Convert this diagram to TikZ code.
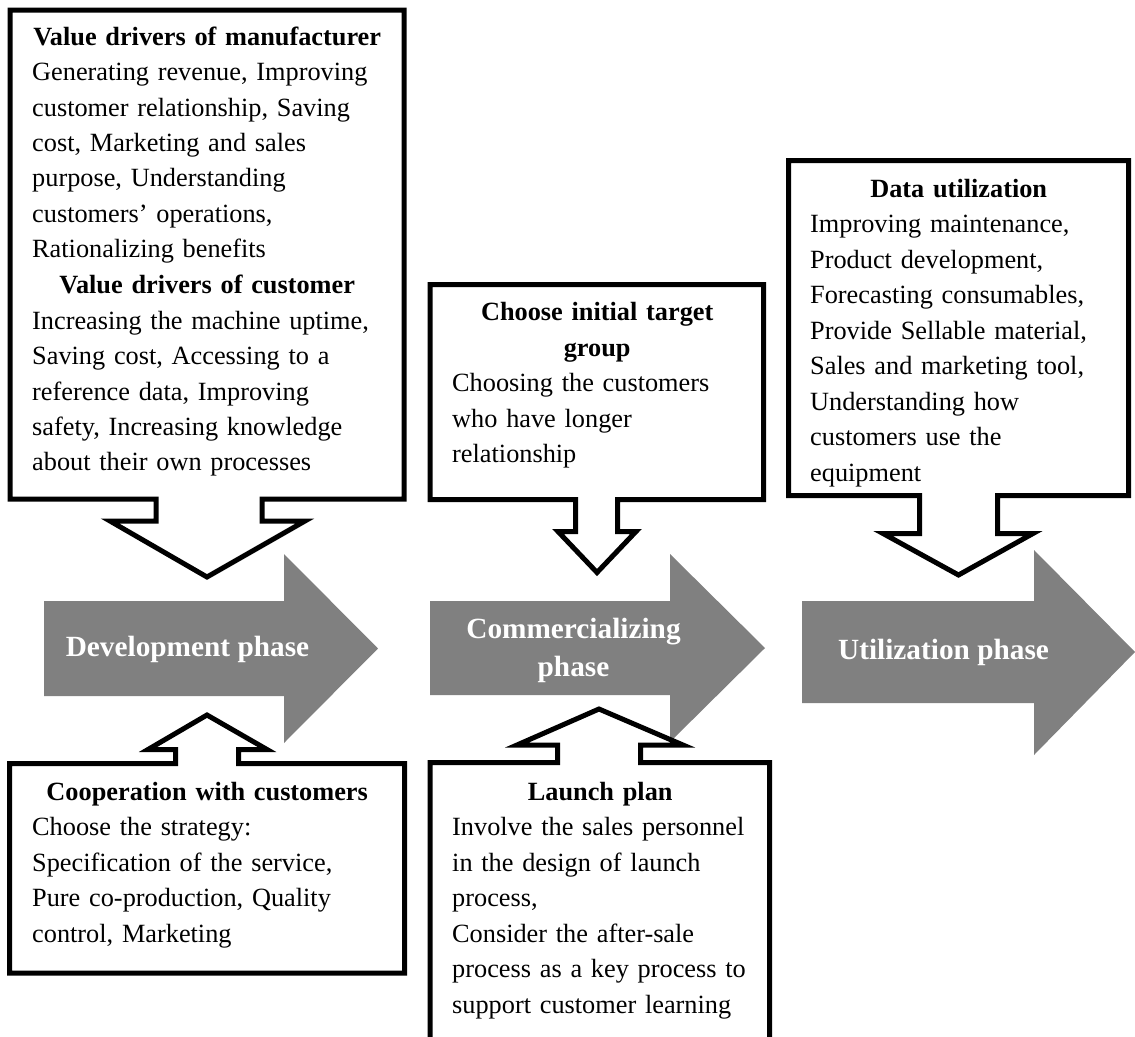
\documentclass[tikz,border=0pt]{standalone}
\usepackage{fontspec}
\setmainfont{Liberation Serif}
\definecolor{arrowgray}{RGB}{128,128,128}
% bold heading centred over a given width
\newcommand\boxhead[2]{\makebox[#1][c]{\bfseries #2}}
\tikzset{
  callout/.style={draw=black, line width=5pt, fill=white, line join=miter},
  phasearrow/.style={fill=arrowgray, draw=none},
  boxtext/.style={anchor=base west, inner sep=0pt, align=left, text width=420pt,
    font=\fontsize{26.3}{35.5}\selectfont},
  phasetext/.style={anchor=base, inner sep=0pt, align=center, text=white,
    font=\fontsize{29.3}{38}\selectfont\bfseries},
}
\begin{document}
\begin{tikzpicture}[x=1pt, y=-1pt]
\useasboundingbox (0,0) rectangle (1135,1036);
\clip (0,0) rectangle (1135,1036);

% phase arrows
\fill[phasearrow] (44,601) -- (284,601) -- (284,554) -- (378,648.5) -- (284,743) -- (284,696) -- (44,696) -- cycle;
\fill[phasearrow] (430,601) -- (670,601) -- (670,554) -- (765,648) -- (670,742) -- (670,695) -- (430,695) -- cycle;
\fill[phasearrow] (802,601) -- (1034,601) -- (1034,550) -- (1135,652) -- (1034,755) -- (1034,703) -- (802,703) -- cycle;

% callouts pointing down onto the phases
\draw[callout] (10,10) -- (404,10) -- (404,499) -- (262,499) -- (262,521) -- (305,521)
  -- (207,577) -- (110,521) -- (156,521) -- (156,499) -- (10,499) -- cycle;
\draw[callout] (430,284.5) -- (763.5,284.5) -- (763.5,499.5) -- (617.5,499.5) -- (617.5,531.5) -- (636,531.5)
  -- (597,572.5) -- (558,531.5) -- (575.5,531.5) -- (575.5,499.5) -- (430,499.5) -- cycle;
\draw[callout] (788.5,160.5) -- (1128.5,160.5) -- (1128.5,495.5) -- (997.5,495.5) -- (997.5,533.5) -- (1033,533.5)
  -- (958.5,575) -- (883,533.5) -- (919.5,533.5) -- (919.5,495.5) -- (788.5,495.5) -- cycle;

% callouts pointing up onto the phases
\draw[callout] (9.5,973) -- (9.5,763.5) -- (175.5,763.5) -- (175.5,749.5) -- (148,749.5)
  -- (207,715) -- (267,749.5) -- (238.5,749.5) -- (238.5,763.5) -- (404.5,763.5) -- (404.5,973) -- cycle;
\draw[callout] (430,1050) -- (430,762.5) -- (557.5,762.5) -- (557.5,745) -- (517,745)
  -- (599,709) -- (683,745) -- (640.5,745) -- (640.5,762.5) -- (769.5,762.5) -- (769.5,1050) -- cycle;

% phase labels
\node[phasetext] (devlabel) at (187.5,656) {Development phase};
\node[phasetext, text width=300pt] (comlabel) at (573.5,638) {Commercializing\\phase};
\node[phasetext] (utillabel) at (943.5,659) {Utilization phase};

% callout texts
\node[boxtext] (valuetext) at (32,45) {\boxhead{350pt}{Value drivers of manufacturer}\\
Generating revenue, Improving\\
customer relationship, Saving\\
cost, Marketing and sales\\
purpose, Understanding\\
customers’ operations,\\
Rationalizing benefits\\
\boxhead{350pt}{Value drivers of customer}\\
Increasing the machine uptime,\\
Saving cost, Accessing to a\\
reference data, Improving\\
safety, Increasing knowledge\\
about their own processes};

\node[boxtext] (targettext) at (452,320.5) {\boxhead{290pt}{Choose initial target}\\
\boxhead{290pt}{group}\\
Choosing the customers\\
who have longer\\
relationship};

\node[boxtext] (datatext) at (810,197) {\boxhead{297pt}{Data utilization}\\
Improving maintenance,\\
Product development,\\
Forecasting consumables,\\
Provide Sellable material,\\
Sales and marketing tool,\\
Understanding how\\
customers use the\\
equipment};

\node[boxtext] (cooptext) at (32,800) {\boxhead{350pt}{Cooperation with customers}\\
Choose the strategy:\\
Specification of the service,\\
Pure co-production, Quality\\
control, Marketing};

\node[boxtext] (launchtext) at (452,800) {\boxhead{296pt}{Launch plan}\\
Involve the sales personnel\\
in the design of launch\\
process,\\
Consider the after-sale\\
process as a key process to\\
support customer learning};
\end{tikzpicture}
\end{document}
